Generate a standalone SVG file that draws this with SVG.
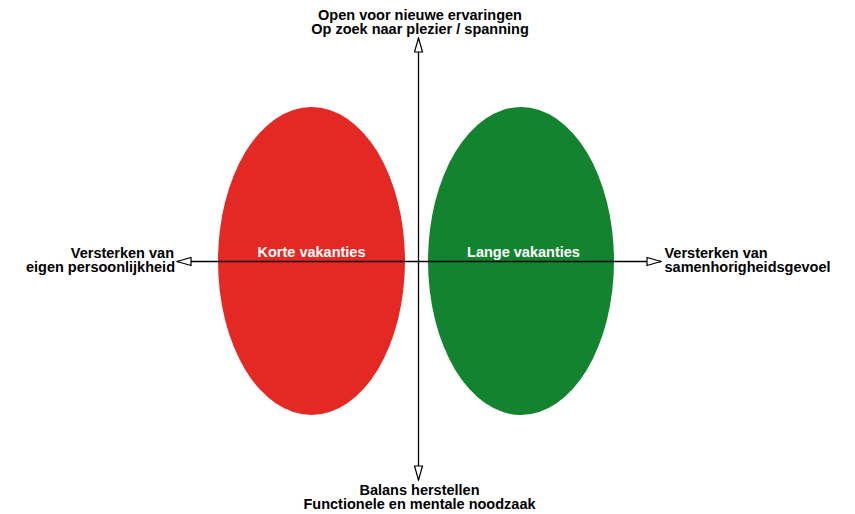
<svg xmlns="http://www.w3.org/2000/svg" width="855" height="514" viewBox="0 0 855 514">
  <defs>
    <marker id="openArrow" viewBox="0 0 16 10" refX="15" refY="5" markerWidth="16" markerHeight="10" markerUnits="userSpaceOnUse" orient="auto-start-reverse">
      <path d="M1,1 L15,5 L1,9 Z" fill="#fff" stroke="#000" stroke-width="1.2"/>
    </marker>
  </defs>
  <style>
    .lbl { font-family: "Liberation Sans", Arial, sans-serif; font-weight: bold; font-size: 14.5px; fill: #000; }
    .in { font-family: "Liberation Sans", Arial, sans-serif; font-weight: bold; font-size: 14.5px; fill: #fff; text-anchor: middle; }
    .axis { stroke: #000; stroke-width: 1.3; fill: none; }
  </style>
  <rect width="855" height="514" fill="#fff"/>

  <g id="korte">
    <ellipse cx="311.5" cy="261" rx="93.5" ry="154" fill="#E42925"/>
    <text class="in" x="311.5" y="257">Korte vakanties</text>
  </g>
  <g id="lange">
    <ellipse cx="521" cy="261" rx="93" ry="154" fill="#138330"/>
    <text class="in" x="523.5" y="257">Lange vakanties</text>
  </g>

  <g id="connectors">
    <line class="axis" x1="418.5" y1="262" x2="418.5" y2="38" marker-end="url(#openArrow)"/>
    <line class="axis" x1="418.5" y1="262" x2="418.5" y2="480" marker-end="url(#openArrow)"/>
    <line class="axis" x1="418.5" y1="261.5" x2="177" y2="261.5" marker-end="url(#openArrow)"/>
    <line class="axis" x1="418.5" y1="261.5" x2="661" y2="261.5" marker-end="url(#openArrow)"/>
  </g>

  <g id="top-label">
    <text class="lbl" x="420" y="20" text-anchor="middle">Open voor nieuwe ervaringen</text>
    <text class="lbl" x="420" y="33.5" text-anchor="middle">Op zoek naar plezier / spanning</text>
  </g>
  <g id="bottom-label">
    <text class="lbl" x="419.5" y="495" text-anchor="middle">Balans herstellen</text>
    <text class="lbl" x="419.5" y="508.5" text-anchor="middle">Functionele en mentale noodzaak</text>
  </g>
  <g id="left-label">
    <text class="lbl" x="174" y="258" text-anchor="end">Versterken van</text>
    <text class="lbl" x="175" y="271.5" text-anchor="end">eigen persoonlijkheid</text>
  </g>
  <g id="right-label">
    <text class="lbl" x="664.5" y="258">Versterken van</text>
    <text class="lbl" x="664.5" y="271.5">samenhorigheidsgevoel</text>
  </g>
</svg>
